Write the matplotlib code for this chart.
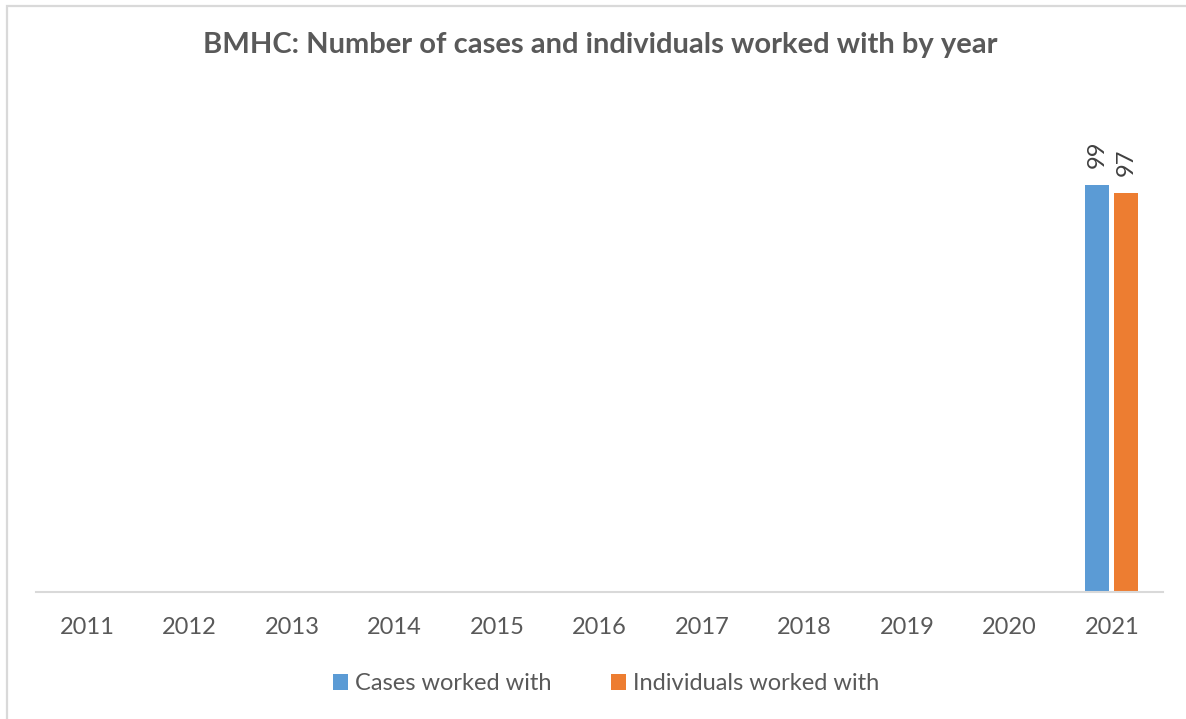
import numpy as np
import matplotlib
matplotlib.use("Agg")
import matplotlib.pyplot as plt
from matplotlib.patches import Rectangle

plt.rcParams['font.family'] = ['Lato', 'DejaVu Sans']

years = ["2011", "2012", "2013", "2014", "2015", "2016", "2017", "2018", "2019", "2020", "2021"]
cases = [0, 0, 0, 0, 0, 0, 0, 0, 0, 0, 99]
individuals = [0, 0, 0, 0, 0, 0, 0, 0, 0, 0, 97]
labels = ["Cases worked with", "Individuals worked with"]

blue = "#5B9BD5"
orange = "#ED7D31"
grey = "#595959"

fig = plt.figure(figsize=(11.86, 7.19), dpi=100)
ax = fig.add_axes([36/1186, 1-592/719, (1163-36)/1186, (592-99)/719])

x = np.arange(len(years))
w = 0.234
off = (w + 0.049) / 2
b1 = ax.bar(x - off, cases, w, color=blue, label=labels[0])
b2 = ax.bar(x + off, individuals, w, color=orange, label=labels[1])

for bars, vals in ((b1, cases), (b2, individuals)):
    for r, v in zip(bars, vals):
        if v > 0:
            ax.text(r.get_x() + r.get_width()/2, v + 4.2, str(v), rotation=90,
                    ha="center", va="bottom", fontsize=17, color="#404040")

ax.set_xlim(-0.5, len(years) - 0.5)
ax.set_ylim(0, 120)
ax.set_xticks(x)
ax.set_xticklabels(years, fontsize=17, color=grey)
ax.set_yticks([])
for s in ["top", "right", "left"]:
    ax.spines[s].set_visible(False)
ax.spines["bottom"].set_color("#D9D9D9")
ax.spines["bottom"].set_linewidth(1.5)
ax.tick_params(axis="x", length=0, pad=18)

fig.text(0.506, 1-45/719, "BMHC: Number of cases and individuals worked with by year",
         ha="center", va="center", fontsize=21, fontweight="bold", color=grey)

leg = fig.legend(handles=[b1, b2], labels=labels, loc="center", bbox_to_anchor=(0.511, 1-684/719),
                 ncol=2, frameon=False, fontsize=17, handlelength=0.65, handleheight=0.65,
                 handletextpad=0.3, columnspacing=2.5)
for t in leg.get_texts():
    t.set_color(grey)

fig.patches.append(Rectangle((7/1186, -0.1), 1.2, 1.1 - 6/719, transform=fig.transFigure,
                             fill=False, edgecolor="#D9D9D9", linewidth=1.6))

fig.savefig("out.png", dpi=100)
